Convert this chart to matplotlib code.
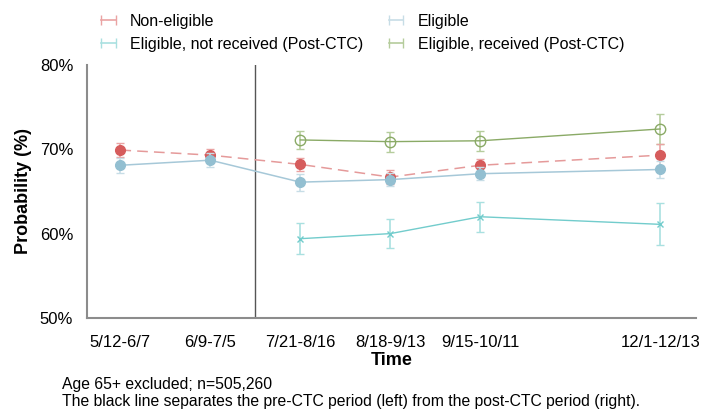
import matplotlib.pyplot as plt
from matplotlib.lines import Line2D

plt.rcParams['font.family'] = ['Liberation Sans', 'DejaVu Sans']

# Time windows and their position on the x axis
periods = ["5/12-6/7", "6/9-7/5", "7/21-8/16", "8/18-9/13", "9/15-10/11", "12/1-12/13"]
xpos = [0, 1, 2, 3, 4, 6]
post_x = [2, 3, 4, 6]

# Probability (%) and error half-widths
non_elig = [69.9, 69.3, 68.2, 66.7, 68.1, 69.3]
non_elig_err = [0.8, 0.7, 0.8, 0.8, 0.8, 1.3]
elig = [68.1, 68.7, 66.1, 66.4, 67.1, 67.6]
elig_err = [0.9, 0.8, 1.0, 0.8, 0.8, 1.0]
not_recv = [59.4, 60.0, 62.0, 61.1]
not_recv_err = [1.85, 1.7, 1.8, 2.5]
recv = [71.1, 70.9, 71.0, 72.4]
recv_err = [1.1, 1.2, 1.2, 1.8]

red, red_line, red_l = "#d65c5c", "#e59a9a", "#eaa3a3"
blue, blue_line, blue_l = "#93bfd1", "#a6c8d8", "#c7dde6"
cyan, cyan_l = "#72cccc", "#a9e0e0"
green, green_l = "#8aaa66", "#b5cc9c"

fig = plt.figure(figsize=(7.14, 4.13), dpi=100)
ax = fig.add_axes([0.122, 0.23, 0.853, 0.613])

ax.errorbar(xpos, non_elig, yerr=non_elig_err, color=red_line, mfc=red, mec=red,
            ecolor=red_l, ls=(0, (7, 4)), lw=1.1, marker='o', ms=7, capsize=3,
            elinewidth=1.2, zorder=4)
ax.errorbar(xpos, elig, yerr=elig_err, color=blue_line, mfc=blue, mec=blue,
            ecolor=blue_l, lw=1.1, marker='o', ms=7, capsize=3, elinewidth=1.2, zorder=5)
ax.errorbar(post_x, not_recv, yerr=not_recv_err, color=cyan, ecolor=cyan_l, lw=1,
            marker='x', ms=4, mew=1, capsize=3, elinewidth=1.2, zorder=3)
ax.errorbar(post_x, recv, yerr=recv_err, color=green, ecolor=green_l, lw=1,
            marker='o', mfc='none', ms=7.5, mew=1, capsize=3, elinewidth=1.2, zorder=3)

# pre/post CTC separator
ax.axvline(1.5, color="#555555", lw=1)

ax.set_xlim(-0.37, 6.4)
ax.set_ylim(50, 80)
ax.set_yticks([50, 60, 70, 80])
ax.set_yticklabels(["50%", "60%", "70%", "80%"])
ax.set_xticks(xpos)
ax.set_xticklabels(periods)
ax.tick_params(length=0, labelsize=12)
ax.tick_params(axis='x', pad=12)
ax.tick_params(axis='y', pad=10)
for s in ["top", "right"]:
    ax.spines[s].set_visible(False)
for s in ["left", "bottom"]:
    ax.spines[s].set_color("#8c8c8c")
    ax.spines[s].set_linewidth(1.5)

ax.set_ylabel("Probability (%)", fontsize=13, fontweight="bold", labelpad=6)
ax.set_xlabel("Time", fontsize=13, fontweight="bold", labelpad=2)

handles = [Line2D([0, 1], [0, 0], color=c, marker='|', ms=7, lw=1.2)
           for c in [red_l, cyan_l, blue_l, green_l]]
labels = ["Non-eligible", "Eligible, not received (Post-CTC)",
          "Eligible", "Eligible, received (Post-CTC)"]
fig.legend(handles, labels, ncol=2, loc="upper left", bbox_to_anchor=(0.115, 1.002),
           frameon=False, fontsize=11.5, numpoints=2, handlelength=1.5,
           columnspacing=1.3, labelspacing=0.5, handletextpad=0.6)

fig.text(0.087, 0.058, "Age 65+ excluded; n=505,260", fontsize=11.3)
fig.text(0.087, 0.016, "The black line separates the pre-CTC period (left) from the post-CTC period (right).",
         fontsize=11.3)

fig.savefig("out.png", dpi=100)
